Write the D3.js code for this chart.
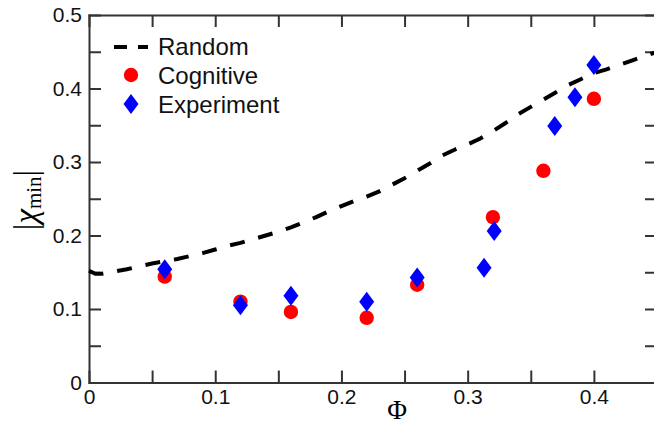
<!DOCTYPE html>
<html>
<head>
<meta charset="utf-8">
<script src="https://cdn.jsdelivr.net/npm/d3@7"></script>
<style>
  body { margin: 0; background: #fff; }
  svg { display: block; }
  .axis path, .axis line { stroke: #333; stroke-width: 2px; }
  .axis text { font-family: "Liberation Sans", Arial, sans-serif; font-size: 21px; fill: #111; }
</style>
</head>
<body>
<svg id="chart" width="654" height="424"></svg>
<script>
// Random network curve
const randomPhi = [0, 0.005, 0.01, 0.02, 0.03, 0.04, 0.05, 0.06, 0.07, 0.08, 0.09, 0.10, 0.11, 0.12, 0.13, 0.14,
                   0.15, 0.16, 0.17, 0.18, 0.19, 0.20, 0.21, 0.22, 0.23, 0.24, 0.25, 0.26, 0.27, 0.28, 0.29,
                   0.30, 0.31, 0.32, 0.33, 0.34, 0.35, 0.36, 0.37, 0.38, 0.39, 0.40, 0.41, 0.42, 0.43, 0.44, 0.45];
const randomChi = [0.152, 0.148, 0.148, 0.151, 0.154, 0.158, 0.162, 0.165, 0.168, 0.172, 0.176, 0.181, 0.186, 0.190, 0.195, 0.200,
                   0.205, 0.211, 0.218, 0.225, 0.233, 0.240, 0.247, 0.253, 0.260, 0.269, 0.278, 0.288, 0.298, 0.309, 0.317,
                   0.324, 0.332, 0.342, 0.353, 0.365, 0.375, 0.385, 0.395, 0.405, 0.413, 0.421, 0.426, 0.432, 0.438, 0.444, 0.450];

// Cognitive model
const cogPhi = [0.06, 0.12, 0.16, 0.22, 0.26, 0.32, 0.36, 0.40];
const cogChi = [0.144, 0.110, 0.096, 0.088, 0.133, 0.225, 0.288, 0.386];

// Experiment
const expPhi = [0.06, 0.12, 0.16, 0.22, 0.26, 0.313, 0.321, 0.369, 0.385, 0.40];
const expChi = [0.154, 0.105, 0.118, 0.110, 0.143, 0.156, 0.206, 0.349, 0.388, 0.432];

const xTicks = [0, 0.05, 0.1, 0.15, 0.2, 0.25, 0.3, 0.35, 0.4, 0.45];
const yTicks = [0, 0.05, 0.1, 0.15, 0.2, 0.25, 0.3, 0.35, 0.4, 0.45, 0.5];
const legendNames = ["Random", "Cognitive", "Experiment"];

const margin = {left: 89, top: 15, right: 657, bottom: 382.5};

const svg = d3.select("#chart");

const x = d3.scaleLinear().domain([0, 0.45]).range([margin.left, margin.right]);
const y = d3.scaleLinear().domain([0, 0.5]).range([margin.bottom, margin.top]);

// label only every 0.1
const fmt = function(d) {
    const r = Math.round(d * 100);
    if (r % 10 !== 0) return "";
    return r === 0 ? "0" : d3.format(".1f")(d);
};

svg.append("g").attr("class", "axis")
    .attr("transform", "translate(0," + margin.bottom + ")")
    .call(d3.axisBottom(x).tickValues(xTicks).tickSize(-12).tickSizeOuter(0).tickPadding(7).tickFormat(fmt));
svg.append("g").attr("class", "axis")
    .attr("transform", "translate(0," + margin.top + ")")
    .call(d3.axisTop(x).tickValues(xTicks).tickSize(-12).tickSizeOuter(0).tickFormat(""));
svg.append("g").attr("class", "axis")
    .attr("transform", "translate(" + margin.left + ",0)")
    .call(d3.axisLeft(y).tickValues(yTicks).tickSize(-12).tickSizeOuter(0).tickPadding(7).tickFormat(fmt));
svg.append("g").attr("class", "axis")
    .attr("transform", "translate(" + margin.right + ",0)")
    .call(d3.axisRight(y).tickValues(yTicks).tickSize(-12).tickSizeOuter(0).tickFormat(""));

svg.selectAll(".axis .domain").attr("stroke-linecap", "square");

// dashed random curve
const line = d3.line().x(function(d, i) { return x(randomPhi[i]); }).y(function(d) { return y(d); });
svg.append("path")
    .datum(randomChi)
    .attr("d", line)
    .attr("fill", "none")
    .attr("stroke", "#000")
    .attr("stroke-width", 4)
    .attr("stroke-dasharray", "15,14");

// cognitive circles
svg.append("g").selectAll("circle").data(cogChi)
    .enter().append("circle")
    .attr("cx", function(d, i) { return x(cogPhi[i]); })
    .attr("cy", function(d) { return y(d); })
    .attr("r", 7.2)
    .attr("fill", "#ff0000");

// experiment diamonds
const diamond = "M0,-10L7.5,0L0,10L-7.5,0Z";
svg.append("g").selectAll("path").data(expChi)
    .enter().append("path")
    .attr("d", diamond)
    .attr("transform", function(d, i) { return "translate(" + x(expPhi[i]) + "," + y(d) + ")"; })
    .attr("fill", "#0000ff");

// legend
const lg = svg.append("g");
lg.append("line").attr("x1", 114).attr("x2", 148).attr("y1", 47).attr("y2", 47)
    .attr("stroke", "#000").attr("stroke-width", 4).attr("stroke-dasharray", "13,11");
lg.append("circle").attr("cx", 131).attr("cy", 75).attr("r", 7.2).attr("fill", "#ff0000");
lg.append("path").attr("d", diamond).attr("transform", "translate(131,104)").attr("fill", "#0000ff");
lg.selectAll("text").data(legendNames)
    .enter().append("text")
    .attr("x", 158)
    .attr("y", function(d, i) { return 55 + i * 29; })
    .attr("font-family", "Liberation Sans, Arial, sans-serif")
    .attr("font-size", 24)
    .attr("fill", "#111")
    .text(function(d) { return d; });

// axis titles
svg.append("text")
    .attr("x", 397).attr("y", 419)
    .attr("text-anchor", "middle")
    .attr("font-family", "Liberation Serif, serif")
    .attr("font-size", 27)
    .text("Φ");

const yl = svg.append("text")
    .attr("transform", "translate(37,200) rotate(-90)")
    .attr("text-anchor", "middle")
    .attr("font-family", "Liberation Serif, serif")
    .attr("font-size", 33);
yl.append("tspan").text("|");
yl.append("tspan").attr("font-style", "italic").text("χ");
yl.append("tspan").attr("font-size", 21).attr("dy", 4).text("min");
yl.append("tspan").attr("dy", -4).text("|");
</script>
</body>
</html>
